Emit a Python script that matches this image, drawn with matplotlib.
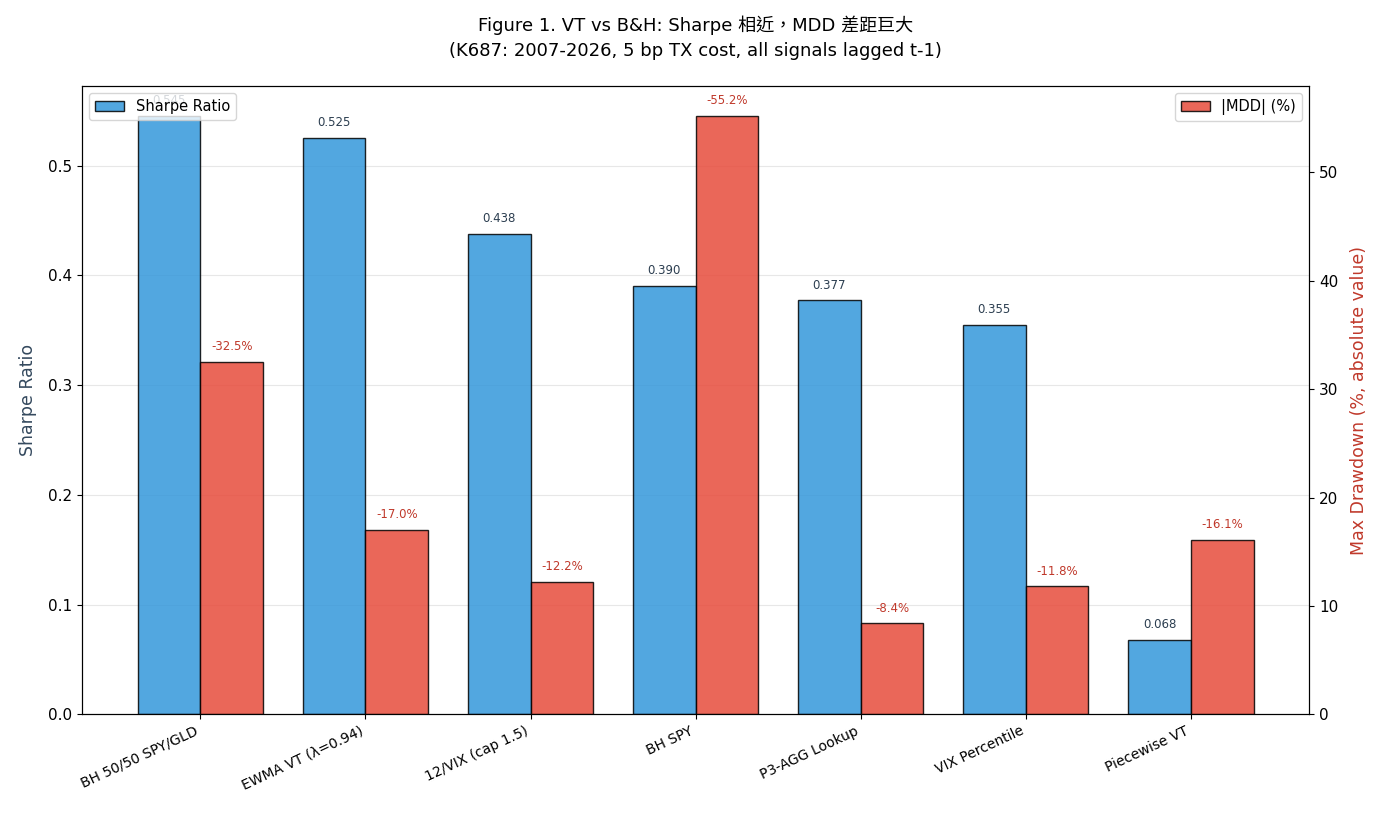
import matplotlib
matplotlib.use("Agg")
import matplotlib.pyplot as plt
import numpy as np

plt.rcParams['font.family'] = ['DejaVu Sans', 'Noto Sans CJK TC']

strategies = ["BH 50/50 SPY/GLD", "EWMA VT (λ=0.94)", "12/VIX (cap 1.5)", "BH SPY",
              "P3-AGG Lookup", "VIX Percentile", "Piecewise VT"]
sharpe = [0.545, 0.525, 0.438, 0.390, 0.377, 0.355, 0.068]
mdd = [-32.5, -17.0, -12.2, -55.2, -8.4, -11.8, -16.1]

blue = "#3498db"
red = "#e74c3c"

fig, ax1 = plt.subplots(figsize=(13.87, 8.21), dpi=100)
fig.subplots_adjust(left=0.059, right=0.944, top=0.895, bottom=0.13)
ax2 = ax1.twinx()

x = np.arange(len(strategies))
w = 0.38
abs_mdd = [abs(v) for v in mdd]

ax1.bar(x - w / 2, sharpe, w, color=blue, alpha=0.85, edgecolor="black", linewidth=1.0, label="Sharpe Ratio")
ax2.bar(x + w / 2, abs_mdd, w, color=red, alpha=0.85, edgecolor="black", linewidth=1.0, label="|MDD| (%)")

ax1.set_ylim(0, max(sharpe) * 1.05)
ax2.set_ylim(0, max(abs_mdd) * 1.05)

for xi, s in zip(x, sharpe):
    ax1.text(xi - w / 2, s + 0.008, f"{s:.3f}", ha="center", va="bottom", fontsize=8.5, color="#2c3e50")
for xi, a, m in zip(x, abs_mdd, mdd):
    ax2.text(xi + w / 2, a + 0.8, f"{m:.1f}%", ha="center", va="bottom", fontsize=8.5, color="#c0392b")

ax1.set_xticks(x)
ax1.set_xticklabels(strategies, rotation=25, ha="right", fontsize=10)
ax1.set_ylabel("Sharpe Ratio", fontsize=12.5, color="#34495e", labelpad=8)
ax2.set_ylabel("Max Drawdown (%, absolute value)", fontsize=12.5, color="#c0392b", labelpad=8)
ax1.tick_params(axis="y", labelsize=11)
ax2.tick_params(axis="y", labelsize=11)
ax1.yaxis.grid(True, alpha=0.3)
ax1.set_axisbelow(True)

ax1.legend(loc="upper left", fontsize=10.5)
ax2.legend(loc="upper right", fontsize=10.5)

ax1.set_title("Figure 1. VT vs B&H: Sharpe 相近，MDD 差距巨大\n(K687: 2007-2026, 5 bp TX cost, all signals lagged t-1)",
              fontsize=13, pad=22, linespacing=1.5)

fig.savefig("out.png", dpi=100)
